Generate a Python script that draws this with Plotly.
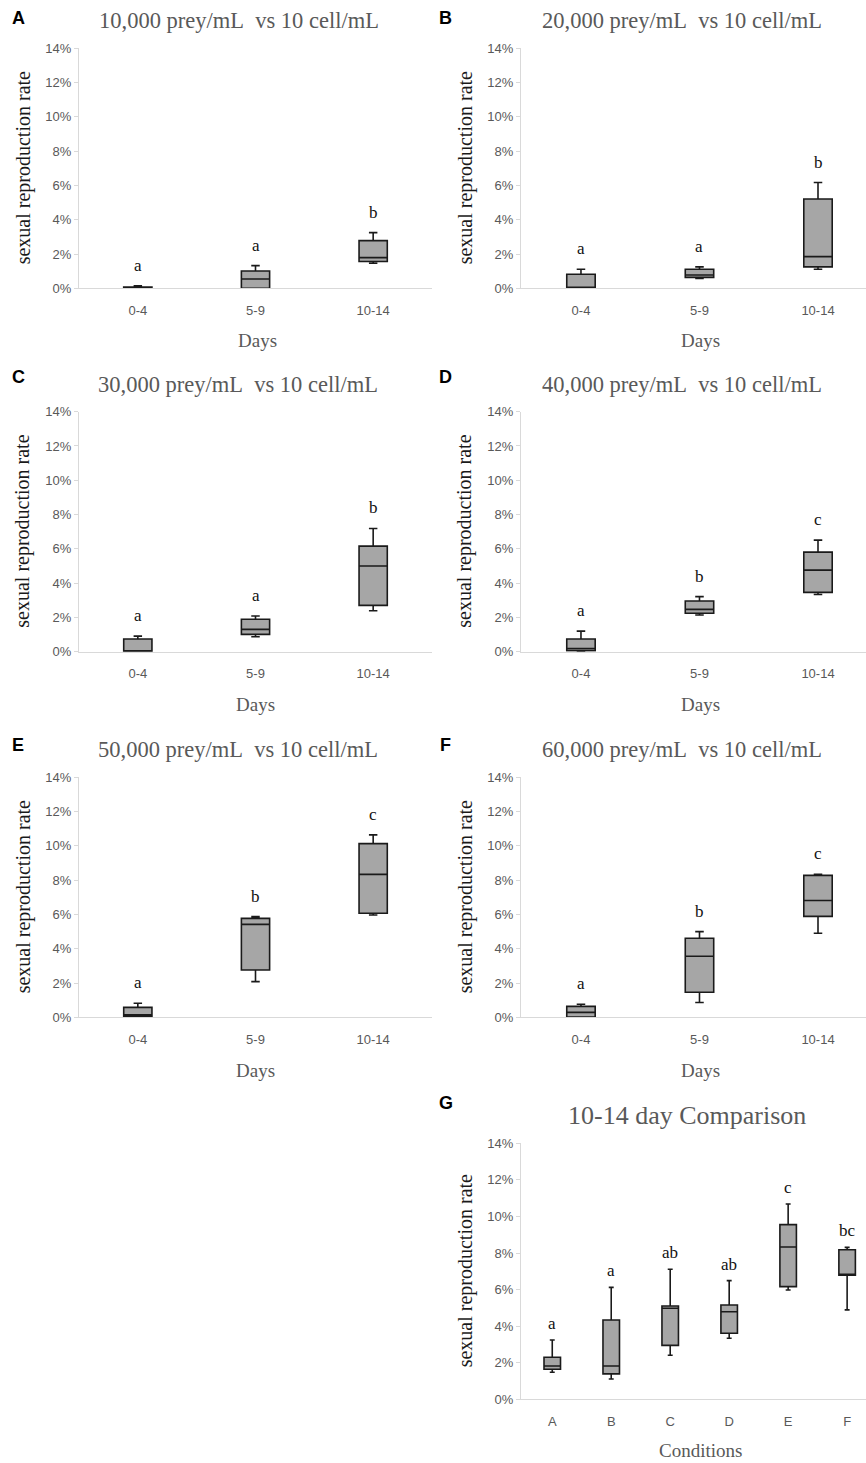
import plotly.graph_objects as go

W, H = 866, 1463

days = ["0-4", "5-9", "10-14"]
conditions = ["A", "B", "C", "D", "E", "F"]

# Box statistics (percent): lower whisker, q1, median, q3, upper whisker
A_low = [0.0, 0.0, 1.46]
A_q1 = [0.02, 0.0, 1.56]
A_med = [0.05, 0.54, 1.79]
A_q3 = [0.08, 1.01, 2.78]
A_up = [0.15, 1.32, 3.25]
A_letters = ["a", "a", "b"]

B_low = [0.0, 0.58, 1.11]
B_q1 = [0.0, 0.64, 1.25]
B_med = [0.0, 0.78, 1.85]
B_q3 = [0.82, 1.11, 5.21]
B_up = [1.11, 1.25, 6.17]
B_letters = ["a", "a", "b"]

C_low = [0.0, 0.87, 2.39]
C_q1 = [0.0, 1.01, 2.70]
C_med = [0.0, 1.30, 5.00]
C_q3 = [0.74, 1.89, 6.16]
C_up = [0.91, 2.08, 7.19]
C_letters = ["a", "a", "b"]

D_low = [0.0, 2.14, 3.34]
D_q1 = [0.06, 2.24, 3.46]
D_med = [0.19, 2.47, 4.76]
D_q3 = [0.74, 2.96, 5.81]
D_up = [1.20, 3.21, 6.51]
D_letters = ["a", "b", "c"]

E_low = [0.0, 2.08, 5.97]
E_q1 = [0.04, 2.76, 6.07]
E_med = [0.14, 5.42, 8.34]
E_q3 = [0.58, 5.77, 10.13]
E_up = [0.82, 5.87, 10.64]
E_letters = ["a", "b", "c"]

F_low = [0.0, 0.86, 4.90]
F_q1 = [0.02, 1.46, 5.89]
F_med = [0.29, 3.56, 6.81]
F_q3 = [0.64, 4.61, 8.28]
F_up = [0.76, 5.00, 8.34]
F_letters = ["a", "b", "c"]

G_low = [1.48, 1.11, 2.41, 3.34, 5.98, 4.89]
G_q1 = [1.64, 1.39, 2.95, 3.61, 6.16, 6.78]
G_med = [1.82, 1.82, 4.98, 4.79, 8.33, 6.80]
G_q3 = [2.30, 4.34, 5.10, 5.16, 9.55, 8.18]
G_up = [3.24, 6.12, 7.11, 6.49, 10.68, 8.31]
G_letters = ["a", "a", "ab", "ab", "c", "bc"]

panel_titles = [
    "10,000 prey/mL\u00a0 vs 10 cell/mL",
    "20,000 prey/mL\u00a0 vs 10 cell/mL",
    "30,000 prey/mL\u00a0 vs 10 cell/mL",
    "40,000 prey/mL\u00a0 vs 10 cell/mL",
    "50,000 prey/mL\u00a0 vs 10 cell/mL",
    "60,000 prey/mL\u00a0 vs 10 cell/mL",
    "10-14 day Comparison",
]
panel_tags = ["A", "B", "C", "D", "E", "F", "G"]
y_ticks = [0, 2, 4, 6, 8, 10, 12, 14]
y_tick_text = ["0%", "2%", "4%", "6%", "8%", "10%", "12%", "14%"]

panels = [
    (days, A_low, A_q1, A_med, A_q3, A_up, A_letters),
    (days, B_low, B_q1, B_med, B_q3, B_up, B_letters),
    (days, C_low, C_q1, C_med, C_q3, C_up, C_letters),
    (days, D_low, D_q1, D_med, D_q3, D_up, D_letters),
    (days, E_low, E_q1, E_med, E_q3, E_up, E_letters),
    (days, F_low, F_q1, F_med, F_q3, F_up, F_letters),
    (conditions, G_low, G_q1, G_med, G_q3, G_up, G_letters),
]

# layout geometry in pixels: (axis left x, axis right x, y of 0%, y of 14%, x range, title y, xtitle y)
geo = [
    (79, 432, 288.3, 48.3, [-0.5, 2.5], 21, 340),
    (521, 866, 288.3, 48.3, [-0.506, 2.405], 21, 340),
    (79, 432, 651.7, 411.7, [-0.5, 2.5], 384, 704),
    (521, 866, 651.7, 411.7, [-0.506, 2.405], 384, 704),
    (79, 432, 1017.3, 777.3, [-0.5, 2.5], 749, 1070),
    (521, 866, 1017.3, 777.3, [-0.506, 2.405], 749, 1070),
    (521, 866, 1399.3, 1143.3, [-0.53, 5.32], 1115, 1450),
]
tag_pos = [(18, 18), (446, 18), (18, 377), (446, 377), (18, 745), (446, 745), (446, 1103)]
title_x = [239, 682, 238, 682, 238, 682, 687]
xtitle_x = [257, 700, 255, 700, 255, 700, 700]

fig = go.Figure()
annotations = []
serif = "Liberation Serif, Times New Roman, serif"
sans = "Liberation Sans, Arial, sans-serif"
gray = "#595959"

for i, (cats, lo, q1, med, q3, up, letters) in enumerate(panels):
    xl, xr, y0, y14, xrange, ty, xty = geo[i]
    n = "" if i == 0 else str(i + 1)
    fig.add_trace(go.Box(
        x=cats, q1=q1, median=med, q3=q3, lowerfence=lo, upperfence=up,
        xaxis="x" + n, yaxis="y" + n,
        fillcolor="#a6a6a6", line=dict(color="#1a1a1a", width=1.6),
        width=0.24 if i < 6 else 0.28, whiskerwidth=0.3,
        boxpoints=False, showlegend=False, hoverinfo="skip",
    ))
    xd = [xl / W, min(xr / W, 1.0)]
    yd = [1 - y0 / H, 1 - y14 / H]
    fig.layout["xaxis" + n] = dict(
        domain=xd, range=xrange, type="category", anchor="y" + n,
        showline=True, linecolor="#d9d9d9", linewidth=1, ticks="",
        showgrid=False, zeroline=False, fixedrange=True, automargin=False,
        tickfont=dict(family=sans, size=13, color=gray), ticklabelstandoff=10,
    )
    fig.layout["yaxis" + n] = dict(
        domain=yd, range=[0, 14], anchor="x" + n,
        showline=True, linecolor="#d9d9d9", linewidth=1,
        ticks="outside", ticklen=4, tickcolor="#d9d9d9",
        tickvals=y_ticks, ticktext=y_tick_text,
        showgrid=False, zeroline=False, fixedrange=True, automargin=False,
        tickfont=dict(family=sans, size=13, color=gray),
    )
    # significance letters
    for c, u, t in zip(cats, up, letters):
        annotations.append(dict(
            x=c, y=u, xref="x" + n, yref="y" + n, text=t, showarrow=False,
            yanchor="bottom", yshift=9 if i < 6 else 5,
            font=dict(family=serif, size=17, color="#111111"),
        ))
    # panel title
    annotations.append(dict(
        x=title_x[i] / W, y=1 - ty / H, xref="paper", yref="paper",
        text=panel_titles[i], showarrow=False, xanchor="center", yanchor="middle",
        font=dict(family=serif, size=22.5 if i < 6 else 26, color=gray),
    ))
    # x-axis title
    annotations.append(dict(
        x=xtitle_x[i] / W, y=1 - xty / H, xref="paper", yref="paper",
        text="Days" if i < 6 else "Conditions", showarrow=False,
        xanchor="center", yanchor="middle",
        font=dict(family=serif, size=19, color=gray),
    ))
    # y-axis title
    annotations.append(dict(
        x=(xl - 56) / W, y=1 - (y0 + y14) / 2 / H, xref="paper", yref="paper",
        text="sexual reproduction rate", showarrow=False, textangle=-90,
        xanchor="center", yanchor="middle",
        font=dict(family=serif, size=20, color="#1a1a1a"),
    ))
    # panel tag
    tx, tyy = tag_pos[i]
    annotations.append(dict(
        x=tx / W, y=1 - tyy / H, xref="paper", yref="paper",
        text="<b>" + panel_tags[i] + "</b>", showarrow=False,
        xanchor="center", yanchor="middle",
        font=dict(family=sans, size=18, color="#000000"),
    ))

fig.update_layout(
    template="none",
    width=W, height=H, margin=dict(l=0, r=0, t=0, b=0, pad=0, autoexpand=False),
    paper_bgcolor="white", plot_bgcolor="white",
    annotations=annotations, showlegend=False,
)

fig.write_html(
    "out.html",
    config={"displayModeBar": False, "staticPlot": True},
    post_script="document.body.style.margin='0';document.body.style.overflow='hidden';",
)
